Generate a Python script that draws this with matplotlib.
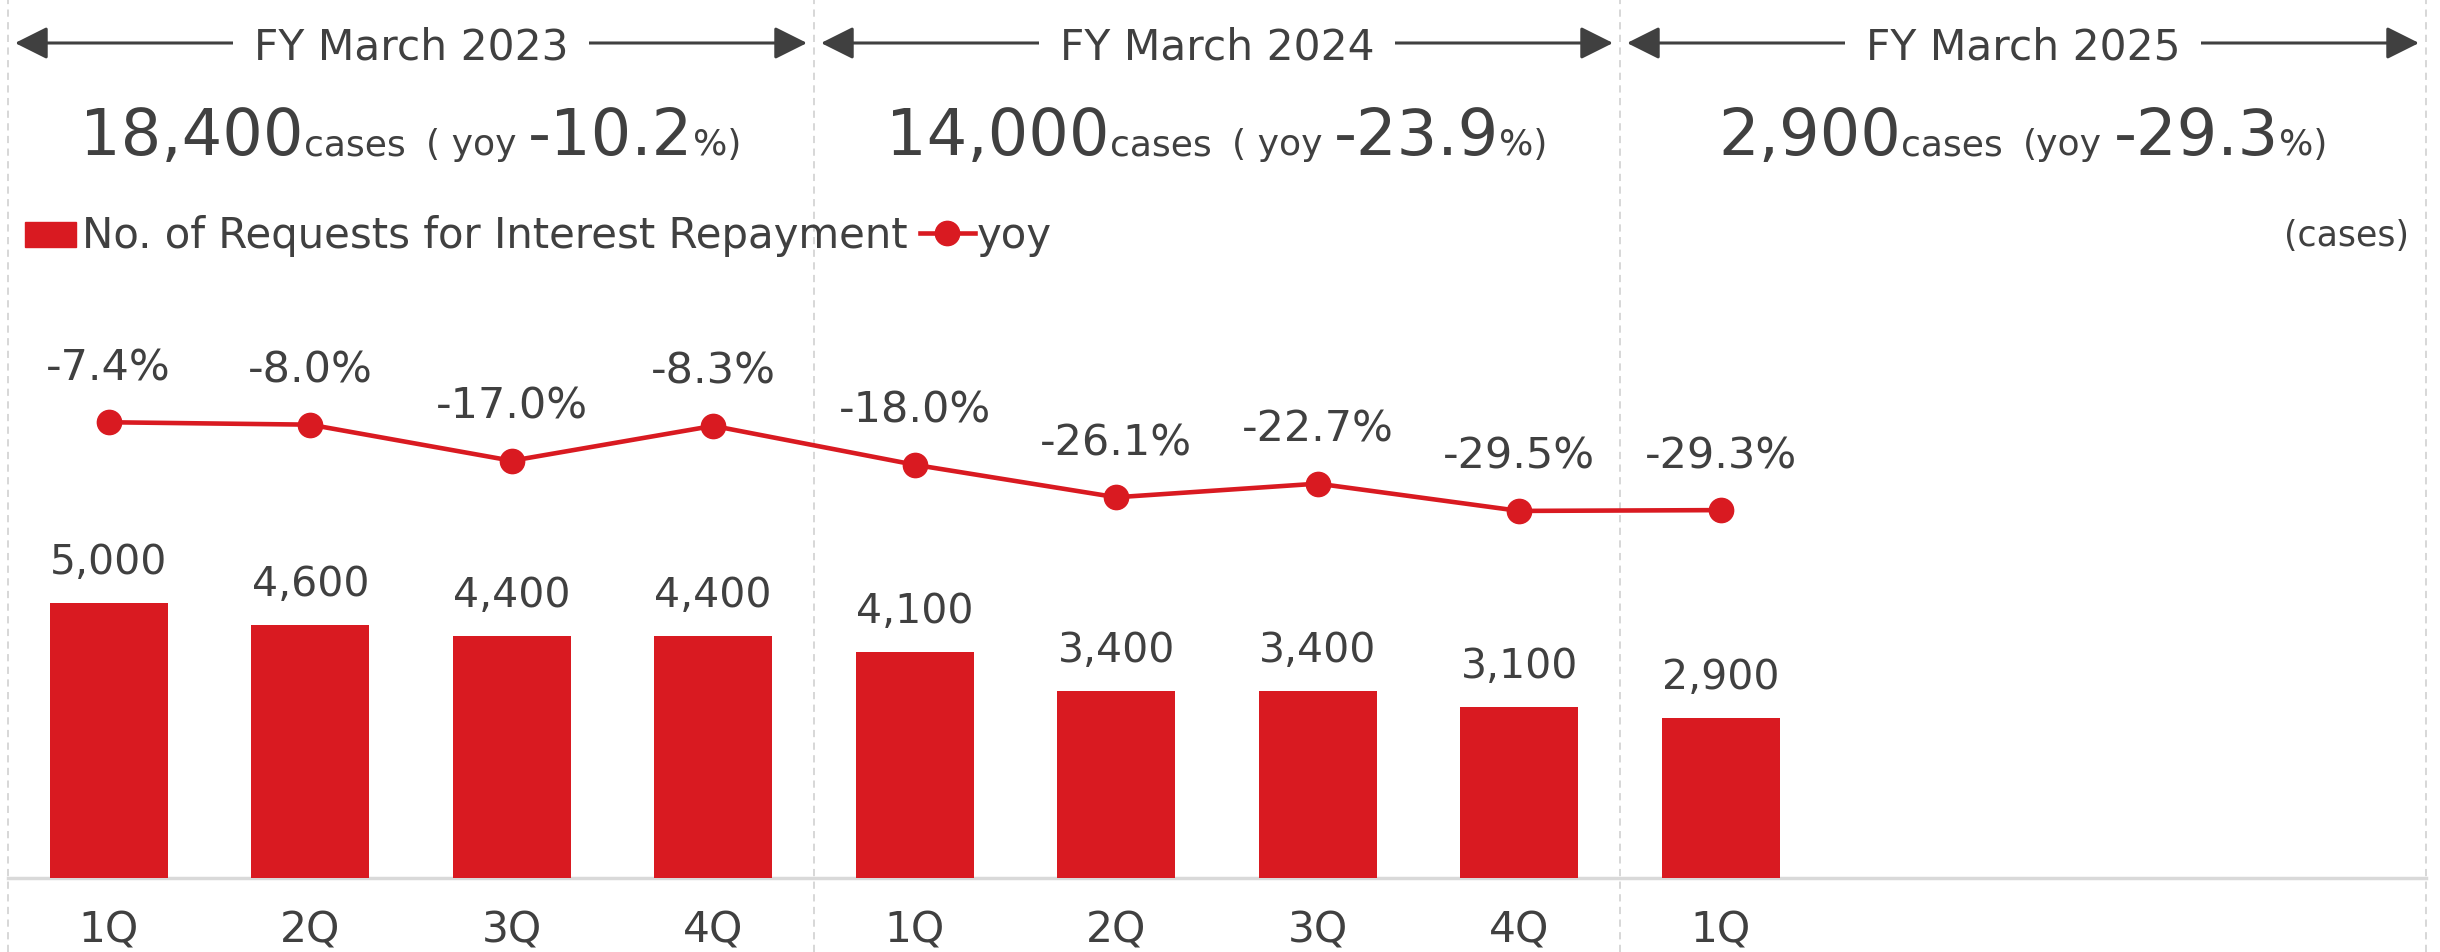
import matplotlib
matplotlib.use("Agg")
import matplotlib.pyplot as plt
import matplotlib.transforms as mtransforms
from matplotlib.patches import Rectangle
from matplotlib.lines import Line2D

# ---------------- data ----------------
quarters = ['1Q', '2Q', '3Q', '4Q', '1Q', '2Q', '3Q', '4Q', '1Q']
requests = [5000, 4600, 4400, 4400, 4100, 3400, 3400, 3100, 2900]
yoy_pct = [-7.4, -8.0, -17.0, -8.3, -18.0, -26.1, -22.7, -29.5, -29.3]
fiscal_years = ['FY March 2023', 'FY March 2024', 'FY March 2025']
fy_totals = ['18,400', '14,000', '2,900']
fy_yoy = ['-10.2', '-23.9', '-29.3']
fy_yoy_prefix = ['( yoy', '( yoy', '(yoy']
bar_legend = 'No. of Requests for Interest Repayment'
line_legend = 'yoy'
unit_label = '(cases)'

# ---------------- style ----------------
RED = '#D91A21'
TEXT = '#404040'
GRID = '#d9d9d9'
DASH = '#d4d4d4'

W, H, DPI = 2440, 952, 100
plt.rcParams['font.family'] = ['DejaVu Sans']
fig = plt.figure(figsize=(W / DPI, H / DPI), dpi=DPI)


def fx(px):
    return px / W


def fy(py):
    return 1 - py / H


PT = 72 / DPI  # points per pixel
FS = 29.5

ax_left, ax_right, ax_top, ax_bottom = 8, 2426, 200, 878
ax_h = ax_bottom - ax_top
ax = fig.add_axes([fx(ax_left), fy(ax_bottom), (ax_right - ax_left) / W, ax_h / H])
n_slots = 12
slots_per_fy = 4
slot_px = (ax_right - ax_left) / n_slots
ax.set_xlim(-0.5, n_slots - 0.5)
ax.set_ylim(0, 12314)
ax.axis('off')

x = list(range(len(requests)))
ax.bar(x, requests, width=0.585, color=RED, zorder=3)
for i, v in enumerate(requests):
    ax.annotate(f"{v:,}", (i, v), xytext=(0, 29 * PT), textcoords='offset points',
                ha='center', va='baseline', fontsize=FS, color=TEXT, zorder=6)

# baseline
ax.axhline(0, color=GRID, lw=2.5, clip_on=False, zorder=2)

# dashed dividers
for k in range(len(fiscal_years) + 1):
    b = -0.5 + slots_per_fy * k
    ax.axvline(b, ymin=-(H - ax_bottom) / ax_h, ymax=ax_bottom / ax_h, clip_on=False,
               color=DASH, lw=1.3, ls=(0, (4, 3)), zorder=1)

# yoy line
ax2 = ax.twinx()
ax2.set_ylim(-121, 48)
ax2.axis('off')
ax2.plot(x, yoy_pct, color=RED, lw=3.3, marker='o', ms=17.5, zorder=4)
for i, v in enumerate(yoy_pct):
    ax2.annotate(f"{v:.1f}%", (i, v), xytext=(0, 42 * PT), textcoords='offset points',
                 ha='center', va='baseline', fontsize=31, color=TEXT, zorder=6)

trans = mtransforms.blended_transform_factory(ax.transData, fig.transFigure)

# category labels
for i, q in enumerate(quarters):
    ax.text(i, fy(942), q, transform=trans, ha='center', va='baseline',
            fontsize=30.5, color=TEXT)

# fiscal-year headers
inset = 7 / slot_px
for k, name in enumerate(fiscal_years):
    a = -0.5 + slots_per_fy * k
    b = a + slots_per_fy
    ax.annotate('', xy=(b - inset, fy(43)), xytext=(a + inset, fy(43)),
                xycoords=trans, textcoords=trans, annotation_clip=False,
                arrowprops=dict(arrowstyle='<|-|>,head_length=2.0,head_width=1.0',
                                mutation_scale=10, color=TEXT, lw=2.2,
                                shrinkA=0, shrinkB=0), zorder=3)
    ax.text((a + b) / 2, fy(60), name, transform=trans, ha='center', va='baseline',
            fontsize=30.5, color=TEXT, zorder=5,
            bbox=dict(boxstyle='square,pad=0.5', fc='white', ec='none'))

# fiscal-year summary lines (mixed sizes)
renderer = fig.canvas.get_renderer()
BIG, SMALL = 46, 26
for k in range(len(fiscal_years)):
    a = -0.5 + slots_per_fy * k
    center_px = ax.transData.transform(((a + a + slots_per_fy) / 2, 0))[0]
    pieces = [(fy_totals[k], BIG, 0), ('cases', SMALL, 0),
              (fy_yoy_prefix[k], SMALL, 20), (fy_yoy[k], BIG, 12), ('%)', SMALL, 0)]
    texts, widths = [], []
    for s, size, gap in pieces:
        t = fig.text(0, fy(155), s, fontsize=size, color=TEXT, ha='left', va='baseline')
        widths.append(t.get_window_extent(renderer).width)
        texts.append(t)
    total = sum(widths) + sum(p[2] for p in pieces)
    pos = center_px - total / 2
    for t, w, (s, size, gap) in zip(texts, widths, pieces):
        pos += gap
        t.set_x(pos / W)
        pos += w

# legend
fig.patches.append(Rectangle((fx(25), fy(247)), 51 / W, 25 / H, transform=fig.transFigure,
                             color=RED))
lt = fig.text(fx(82), fy(248), bar_legend, fontsize=30.2, color=TEXT, ha='left', va='baseline')
end = 82 + lt.get_window_extent(renderer).width
l0, l1 = end + 12, end + 67
fig.lines.append(Line2D([fx(l0), fx(l1)], [fy(233), fy(233)], transform=fig.transFigure,
                        color=RED, lw=3.3))
fig.lines.append(Line2D([fx((l0 + l1) / 2)], [fy(233)], transform=fig.transFigure,
                        color=RED, marker='o', ms=17.5, lw=0))
fig.text(fx(l1 + 2), fy(248), line_legend, fontsize=30.2, color=TEXT, ha='left', va='baseline')

fig.text(fx(2409), fy(246), unit_label, fontsize=25, color=TEXT, ha='right', va='baseline')

fig.savefig('out.png', dpi=DPI)
